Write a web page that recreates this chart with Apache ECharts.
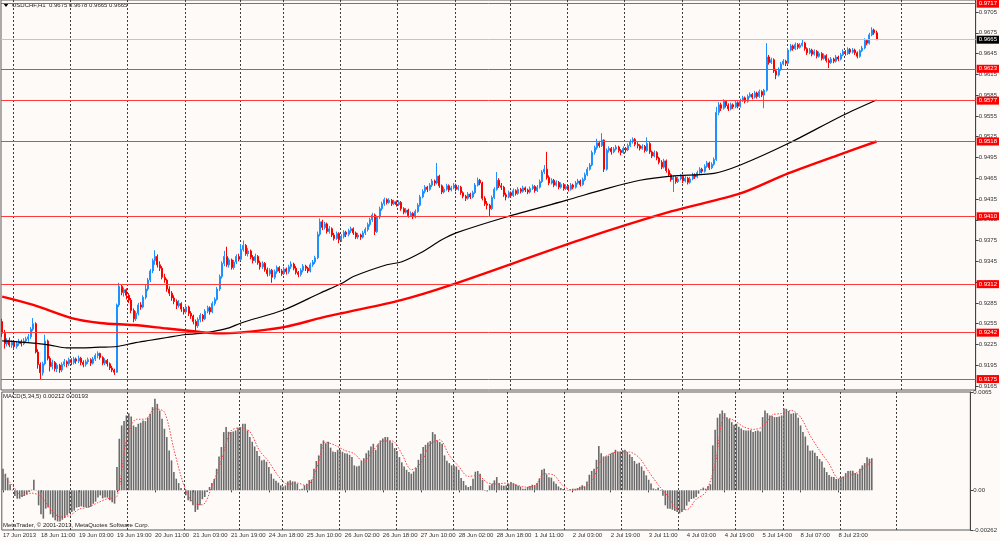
<!DOCTYPE html>
<html lang="en">
<head>
<meta charset="UTF-8">
<title>USDCHF,H1</title>
<script src="https://cdn.jsdelivr.net/npm/echarts@6/dist/echarts.min.js"></script>
<style>
    html, body { margin: 0; padding: 0; background: #fefaf8; }
    #chart { width: 1000px; height: 541px; }
</style>
</head>
<body>
<div id="chart"></div>
<script type="text/javascript">
// USDCHF H1, 17 Jun 19:00 .. 9 Jul 13:00 2013, quotes as 4-digit ints (9258 = 0.9258)
var opens = [
    9258,9241,9226,9231,9224,9228,9222,9226,9229,9226,9230,9233,9236,9247,9255,9214,
    9196,9184,9197,9230,9205,9193,9199,9190,9195,9188,9196,9200,9197,9203,9199,9204,
    9201,9205,9199,9196,9200,9203,9198,9204,9209,9212,9206,9198,9202,9197,9191,9188,
    9185,9282,9309,9300,9304,9296,9289,9274,9262,9270,9282,9279,9293,9305,9318,9331,
    9346,9352,9340,9335,9322,9318,9305,9299,9292,9287,9281,9284,9276,9272,9279,9270,
    9266,9258,9252,9261,9267,9262,9273,9278,9272,9284,9290,9305,9323,9342,9352,9340,
    9347,9336,9344,9352,9348,9362,9368,9356,9360,9351,9346,9352,9343,9337,9342,9333,
    9327,9332,9322,9330,9336,9331,9327,9334,9330,9337,9341,9335,9329,9326,9332,9338,
    9335,9331,9340,9344,9350,9384,9402,9394,9399,9388,9392,9383,9378,9385,9376,9381,
    9387,9384,9389,9392,9386,9380,9383,9380,9386,9391,9398,9405,9412,9388,9409,9421,
    9428,9434,9430,9433,9428,9431,9427,9430,9421,9416,9419,9411,9414,9409,9417,9426,
    9438,9446,9452,9449,9455,9461,9458,9468,9454,9445,9449,9454,9448,9451,9455,9449,
    9452,9444,9439,9436,9442,9438,9444,9455,9462,9458,9436,9428,9426,9421,9437,9449,
    9462,9454,9452,9441,9438,9444,9440,9447,9443,9449,9446,9451,9448,9445,9450,9453,
    9447,9452,9460,9474,9478,9466,9458,9462,9455,9459,9452,9456,9450,9453,9449,9455,
    9452,9458,9461,9456,9463,9470,9478,9484,9502,9509,9516,9512,9520,9478,9505,9508,
    9503,9507,9510,9505,9502,9508,9506,9512,9518,9521,9514,9512,9508,9511,9505,9515,
    9503,9497,9502,9494,9488,9481,9490,9476,9470,9463,9466,9460,9464,9468,9461,9465,
    9459,9464,9470,9467,9473,9478,9475,9482,9487,9480,9485,9492,9560,9571,9566,9576,
    9570,9565,9571,9568,9574,9569,9577,9581,9576,9583,9586,9582,9588,9583,9590,9585,
    9592,9640,9632,9636,9620,9614,9622,9630,9634,9631,9650,9656,9652,9658,9654,9657,
    9660,9652,9646,9650,9644,9648,9641,9645,9638,9642,9635,9632,9637,9634,9640,9637,
    9643,9648,9645,9651,9647,9650,9646,9641,9649,9653,9664,9660,9672,9679,9675
];
var highs = [
    9262,9246,9234,9235,9231,9230,9229,9233,9232,9234,9236,9240,9250,9263,9257,9218,
    9199,9200,9239,9232,9208,9203,9201,9198,9197,9199,9204,9202,9206,9205,9207,9206,
    9209,9207,9202,9203,9206,9205,9207,9212,9215,9213,9208,9205,9204,9199,9194,9190,
    9284,9314,9312,9307,9306,9299,9292,9277,9273,9285,9286,9296,9311,9321,9334,9349,
    9361,9355,9345,9338,9327,9320,9309,9302,9296,9290,9289,9286,9279,9283,9281,9273,
    9268,9261,9264,9270,9269,9276,9281,9280,9287,9293,9308,9326,9345,9360,9366,9350,
    9349,9347,9355,9356,9370,9375,9370,9364,9362,9354,9356,9354,9346,9345,9344,9336,
    9335,9334,9333,9339,9338,9334,9337,9336,9340,9345,9343,9338,9331,9335,9341,9340,
    9337,9343,9347,9353,9388,9407,9405,9402,9401,9396,9394,9386,9388,9387,9384,9390,
    9389,9392,9395,9394,9388,9386,9385,9389,9394,9401,9408,9415,9414,9411,9424,9431,
    9437,9436,9436,9435,9434,9433,9433,9432,9423,9422,9421,9417,9416,9420,9429,9441,
    9449,9455,9454,9458,9464,9463,9487,9470,9456,9452,9457,9456,9454,9458,9457,9455,
    9454,9446,9441,9445,9444,9447,9458,9466,9464,9460,9439,9432,9428,9440,9452,9474,
    9465,9458,9454,9444,9447,9446,9450,9449,9452,9451,9454,9453,9450,9453,9456,9455,
    9455,9463,9477,9484,9503,9469,9465,9464,9462,9461,9459,9458,9456,9455,9458,9457,
    9461,9464,9463,9466,9473,9481,9487,9505,9512,9522,9519,9530,9521,9508,9511,9510,
    9510,9513,9512,9507,9511,9510,9515,9521,9524,9523,9517,9514,9514,9513,9524,9517,
    9505,9505,9504,9496,9491,9493,9492,9479,9472,9469,9468,9467,9471,9470,9468,9467,
    9467,9473,9472,9476,9481,9480,9485,9490,9489,9488,9495,9568,9575,9574,9579,9578,
    9573,9574,9573,9577,9576,9580,9584,9583,9586,9589,9588,9591,9590,9593,9592,9594,
    9660,9643,9639,9638,9623,9625,9633,9637,9636,9653,9659,9658,9661,9660,9660,9665,
    9662,9654,9653,9652,9651,9650,9648,9647,9645,9644,9638,9640,9639,9643,9642,9646,
    9651,9650,9654,9653,9653,9652,9648,9651,9656,9667,9666,9675,9683,9681,9678
];
var lows = [
    9236,9219,9222,9221,9220,9218,9219,9223,9222,9224,9227,9229,9233,9244,9212,9190,
    9175,9180,9195,9202,9186,9189,9186,9185,9184,9185,9193,9192,9194,9195,9196,9197,
    9198,9195,9192,9193,9197,9194,9196,9201,9205,9203,9195,9195,9193,9188,9185,9181,
    9184,9279,9296,9294,9290,9285,9270,9257,9259,9267,9275,9277,9290,9302,9315,9328,
    9340,9336,9331,9319,9314,9301,9295,9288,9283,9276,9278,9272,9268,9269,9266,9262,
    9254,9243,9249,9257,9258,9260,9270,9268,9270,9281,9288,9302,9320,9338,9337,9336,
    9333,9333,9341,9345,9346,9359,9353,9352,9348,9342,9343,9340,9333,9334,9330,9323,
    9324,9314,9319,9327,9328,9324,9325,9326,9327,9334,9332,9326,9322,9323,9329,9331,
    9328,9329,9337,9341,9348,9381,9390,9391,9385,9385,9380,9375,9376,9371,9373,9378,
    9380,9381,9386,9383,9377,9377,9376,9378,9383,9388,9395,9402,9383,9386,9406,9418,
    9425,9427,9428,9425,9426,9424,9425,9418,9413,9414,9408,9409,9406,9407,9415,9424,
    9436,9443,9445,9447,9452,9454,9456,9451,9442,9443,9447,9445,9446,9449,9446,9447,
    9441,9436,9432,9434,9435,9436,9442,9453,9455,9433,9425,9420,9410,9419,9435,9447,
    9451,9448,9438,9433,9436,9437,9438,9440,9441,9443,9444,9445,9442,9443,9448,9444,
    9445,9450,9458,9471,9463,9455,9456,9452,9453,9449,9450,9447,9448,9446,9447,9449,
    9450,9456,9453,9454,9461,9468,9476,9482,9499,9506,9509,9510,9474,9476,9502,9499,
    9501,9505,9502,9498,9500,9502,9504,9510,9515,9511,9508,9505,9506,9502,9503,9500,
    9494,9495,9491,9485,9478,9479,9473,9467,9460,9445,9457,9458,9462,9458,9459,9456,
    9457,9462,9464,9465,9471,9472,9473,9480,9477,9478,9483,9490,9556,9562,9564,9567,
    9562,9563,9565,9566,9566,9567,9575,9573,9574,9581,9579,9580,9580,9581,9582,9566,
    9590,9629,9630,9617,9608,9612,9620,9628,9627,9629,9648,9649,9650,9651,9652,9655,
    9649,9643,9644,9641,9642,9638,9639,9635,9636,9632,9624,9630,9631,9632,9634,9635,
    9641,9642,9643,9644,9645,9643,9638,9639,9647,9651,9657,9658,9670,9672,9665
];
var closes = [
    9241,9226,9231,9224,9228,9222,9226,9229,9226,9230,9233,9236,9247,9255,9214,9196,
    9184,9197,9230,9205,9193,9199,9190,9195,9188,9196,9200,9197,9203,9199,9204,9201,
    9205,9199,9196,9200,9203,9198,9204,9209,9212,9206,9198,9202,9197,9191,9188,9185,
    9282,9309,9300,9304,9296,9289,9274,9262,9270,9282,9279,9293,9305,9318,9331,9346,
    9352,9340,9335,9322,9318,9305,9299,9292,9287,9281,9284,9276,9272,9279,9270,9266,
    9258,9252,9261,9267,9262,9273,9278,9272,9284,9290,9305,9323,9342,9352,9340,9347,
    9336,9344,9352,9348,9362,9368,9356,9360,9351,9346,9352,9343,9337,9342,9333,9327,
    9332,9322,9330,9336,9331,9327,9334,9330,9337,9341,9335,9329,9326,9332,9338,9335,
    9331,9340,9344,9350,9384,9402,9394,9399,9388,9392,9383,9378,9385,9376,9381,9387,
    9384,9389,9392,9386,9380,9383,9380,9386,9391,9398,9405,9412,9388,9409,9421,9428,
    9434,9430,9433,9428,9431,9427,9430,9421,9416,9419,9411,9414,9409,9417,9426,9438,
    9446,9452,9449,9455,9461,9458,9468,9454,9445,9449,9454,9448,9451,9455,9449,9452,
    9444,9439,9436,9442,9438,9444,9455,9462,9458,9436,9428,9426,9421,9437,9449,9462,
    9454,9452,9441,9438,9444,9440,9447,9443,9449,9446,9451,9448,9445,9450,9453,9447,
    9452,9460,9474,9478,9466,9458,9462,9455,9459,9452,9456,9450,9453,9449,9455,9452,
    9458,9461,9456,9463,9470,9478,9484,9502,9509,9516,9512,9520,9478,9505,9508,9503,
    9507,9510,9505,9502,9508,9506,9512,9518,9521,9514,9512,9508,9511,9505,9515,9503,
    9497,9502,9494,9488,9481,9490,9476,9470,9463,9466,9460,9464,9468,9461,9465,9459,
    9464,9470,9467,9473,9478,9475,9482,9487,9480,9485,9492,9560,9571,9566,9576,9570,
    9565,9571,9568,9574,9569,9577,9581,9576,9583,9586,9582,9588,9583,9590,9585,9592,
    9640,9632,9636,9620,9614,9622,9630,9634,9631,9650,9656,9652,9658,9654,9657,9660,
    9652,9646,9650,9644,9648,9641,9645,9638,9642,9635,9632,9637,9634,9640,9637,9643,
    9648,9645,9651,9647,9650,9646,9641,9649,9653,9664,9660,9672,9679,9675,9665
];

var maFastIdx = [0,13,20,27,34,41,48,55,62,69,76,83,90,95,100,118,133,142,147,161,167,175,184,190,211,236,253,267,280,298,309,329,352,366];
var maFastVals = [9230,9227,9224,9220,9220,9221,9222,9227,9231,9235,9239,9241,9245,9249,9256,9275,9299,9313,9323,9340,9344,9357,9376,9386,9409,9433,9450,9462,9468,9472,9484,9515,9556,9578];
var maSlowIdx = [0,13,29,41,55,69,83,90,99,118,133,142,167,188,242,280,309,329,352,366];
var maSlowVals = [9294,9282,9263,9256,9253,9248,9243,9241,9242,9250,9263,9270,9289,9311,9376,9417,9443,9472,9501,9518];

// MACD(5,34,5) main line per bar, in 0.00001
var macdPts = [
    143,110,84,40,4,-37,-55,-55,-44,-37,-26,-11,4,70,-2,-99,
    -158,-187,-121,-114,-158,-180,-198,-205,-205,-194,-183,-165,-152,-143,-134,-114,
    -110,-106,-110,-112,-114,-108,-88,-75,-48,-33,-53,-48,-48,-66,-79,-88,
    154,341,429,458,495,510,488,429,418,440,447,462,458,480,506,550,
    605,572,528,473,407,352,264,198,121,77,48,15,2,-33,-66,-73,
    -99,-143,-128,-99,-59,-44,-11,22,48,75,143,224,286,385,418,387,
    385,389,396,414,418,440,440,396,352,321,290,260,227,198,202,189,
    154,110,77,64,51,33,26,33,59,66,59,59,44,7,11,33,
    44,68,70,143,194,231,308,330,312,321,282,257,253,268,268,255,
    246,244,235,220,165,158,163,196,213,246,264,290,308,268,304,330,
    343,352,352,330,315,279,260,220,185,158,136,121,110,125,150,202,
    242,286,301,317,326,385,370,330,319,308,231,196,180,165,165,158,
    136,81,62,33,22,29,77,123,128,110,70,-2,-7,33,44,66,
    88,48,33,31,33,44,55,48,40,31,24,11,11,22,29,37,
    35,48,79,136,143,106,86,84,59,44,26,15,9,-2,-2,7,
    11,11,15,24,33,26,59,103,128,143,202,293,246,224,224,229,
    242,251,268,255,255,266,268,253,238,220,194,176,183,158,130,99,
    70,46,13,7,18,-4,-35,-99,-121,-121,-128,-136,-143,-152,-143,-128,
    -101,-75,-57,-53,-44,-22,7,18,11,29,40,297,400,480,506,528,
    510,480,471,451,433,440,420,409,398,396,396,398,385,392,396,389,
    484,528,510,495,491,484,484,488,495,541,539,524,506,510,510,480,
    429,385,356,297,262,264,249,227,207,191,150,121,101,90,88,75,
    75,84,92,114,128,130,130,114,110,143,165,180,218,209,212
];
// signal line, read every 4 bars, in 0.00001
var signalIdx = [0,4,8,12,16,20,24,28,32,36,40,44,48,52,56,60,64,68,72,76,80,84,88,92,96,100,104,108,112,116,120,124,128,132,136,140,144,148,152,156,160,164,168,172,176,180,184,188,192,196,200,204,208,212,216,220,224,228,232,236,240,244,248,252,256,260,264,268,272,276,280,284,288,292,296,300,304,308,312,316,320,324,328,332,336,340,344,348,352,356,360,364,366];
var signalVals = [103,33,-35,-18,-40,-121,-176,-167,-125,-110,-81,-55,-40,330,469,471,539,517,271,44,-80,-95,26,198,392,414,387,264,189,95,40,48,29,139,319,297,264,242,187,264,326,326,242,136,180,304,334,231,158,92,99,51,42,48,35,22,29,110,101,29,0,18,59,198,242,255,253,216,125,37,-37,-123,-128,-59,-13,170,484,462,420,403,420,497,508,528,484,363,264,176,79,95,119,165,193];

var timeLabels = ['17 Jun 2013','18 Jun 11:00','19 Jun 03:00','19 Jun 19:00','20 Jun 11:00','21 Jun 03:00','21 Jun 19:00','24 Jun 18:00','25 Jun 10:00','26 Jun 02:00','26 Jun 18:00','27 Jun 10:00','28 Jun 02:00','28 Jun 18:00','1 Jul 11:00','2 Jul 03:00','2 Jul 19:00','3 Jul 11:00','4 Jul 03:00','4 Jul 19:00','5 Jul 14:00','8 Jul 07:00','8 Jul 23:00'];
var labelStep = 16;
var daySeps = [5,29,53,77,100,118,142,166,190,213,237,261,285,309,329,353,377];
var priceTicks = [0.9165,0.9195,0.9225,0.9255,0.9285,0.9315,0.9345,0.9375,0.9405,0.9435,0.9465,0.9495,0.9525,0.9555,0.9585,0.9615,0.9645,0.9675,0.9705];
var levels = [0.9717,0.9623,0.9577,0.9518,0.9410,0.9312,0.9242,0.9175];
var bidLevel = 0.9665;
var macdTicks = [-0.00262, 0, 0.0065];
var macdTickLabels = ['-0.00262', '0.00', '0.0065'];

var totalBars = 408; // includes empty shift on the right
var cats = [];
for (var i = 0; i < totalBars; i++) cats.push(i);

function q(v) { return v / 10000; }
var candleData = opens.map(function (o, i) { return [q(o), q(closes[i]), q(lows[i]), q(highs[i])]; });
var fastData = maFastIdx.map(function (x, i) { return [x, q(maFastVals[i])]; });
var slowData = maSlowIdx.map(function (x, i) { return [x, q(maSlowVals[i])]; });
var macdData = macdPts.map(function (v) { return v / 100000; });
var signalData = signalIdx.map(function (x, i) { return [x, signalVals[i] / 100000]; });

var last = candleData.length - 1;
var titleText = 'USDCHF,H1  ' + [opens[last], highs[last], lows[last], closes[last]].map(function (v) { return q(v).toFixed(4); }).join(' ');
var macdText = 'MACD(5,34,5) ' + macdData[macdData.length - 1].toFixed(5) + ' ' + (signalVals[signalVals.length - 1] / 100000).toFixed(5);

var font = 'Liberation Sans';
var showLabel = function (index) { return index % labelStep === 0 && index / labelStep < timeLabels.length; };
// day separators drawn as the category axis split lines
var isDaySep = function (index) { return daySeps.indexOf(index) >= 0; };
var daySplit = { show: true, interval: isDaySep, lineStyle: { color: '#3c3c3c', width: 1, type: [2, 2] } };

var levelLines = levels.map(function (v) { return { yAxis: v }; });
levelLines.push({
    yAxis: bidLevel,
    lineStyle: { color: '#c4c4c4', width: 1, type: 'solid' },
    label: { backgroundColor: '#000000' }
});

var chart = echarts.init(document.getElementById('chart'));
var option = {
    animation: false,
    backgroundColor: '#fefaf8',
    textStyle: { fontFamily: font },
    grid: [
        { left: 1, top: 0, width: 975, height: 390, show: true, borderColor: '#5a5a5a', borderWidth: 1 },
        { left: 1, top: 392, width: 975, height: 138, show: true, borderColor: '#5a5a5a', borderWidth: 1 }
    ],
    xAxis: [
        {
            type: 'category', gridIndex: 0, data: cats, boundaryGap: true,
            axisLine: { show: false }, axisTick: { show: false }, axisLabel: { show: false },
            splitLine: daySplit
        },
        {
            type: 'category', gridIndex: 1, data: cats, boundaryGap: true,
            axisLine: { show: false },
            axisTick: { show: true, interval: showLabel, alignWithLabel: true, length: 2, lineStyle: { color: '#444' } },
            axisLabel: {
                interval: showLabel, align: 'left', margin: 2,
                fontSize: 6, color: '#333', fontFamily: font,
                formatter: function (value, index) { return timeLabels[index / labelStep] || ''; }
            },
            splitLine: daySplit
        }
    ],
    yAxis: [
        {
            type: 'value', gridIndex: 0, position: 'right', min: 0.91592, max: 0.97223,
            axisLine: { show: true, lineStyle: { color: '#444' } },
            axisTick: { show: true, length: 3, customValues: priceTicks, lineStyle: { color: '#444' } },
            axisLabel: {
                customValues: priceTicks, margin: 3, fontSize: 6, color: '#333', fontFamily: font,
                formatter: function (v) { return v.toFixed(4); }
            },
            splitLine: { show: false }
        },
        {
            type: 'value', gridIndex: 1, position: 'right', min: macdTicks[0], max: macdTicks[2],
            axisLine: { show: true, lineStyle: { color: '#444' } },
            axisTick: { show: true, length: 3, customValues: macdTicks, lineStyle: { color: '#444' } },
            axisLabel: {
                customValues: macdTicks, margin: 3, fontSize: 6, color: '#333', fontFamily: font,
                formatter: function (v) {
                    var k = macdTicks.indexOf(v);
                    return k >= 0 ? macdTickLabels[k] : '';
                }
            },
            splitLine: { show: false }
        }
    ],
    series: [
        {
            name: 'USDCHF', type: 'candlestick', xAxisIndex: 0, yAxisIndex: 0, z: 2,
            data: candleData,
            barWidth: 1.5,
            itemStyle: {
                color: '#1e90ff', color0: '#ff0000',
                borderColor: '#1e90ff', borderColor0: '#ff0000', borderWidth: 1
            },
            markLine: {
                silent: true,
                precision: 4,
                symbol: ['none', 'none'],
                animation: false,
                lineStyle: { color: '#ff3a3a', width: 1, type: 'solid' },
                label: {
                    position: 'end', distance: 1,
                    formatter: function (p) { return Number(p.value).toFixed(4); },
                    color: '#ffffff', backgroundColor: '#ff0000',
                    fontSize: 6, fontFamily: font, padding: [1, 2, 1, 2]
                },
                data: levelLines
            }
        },
        {
            name: 'MA fast', type: 'line', xAxisIndex: 0, yAxisIndex: 0, z: 3,
            data: fastData, smooth: 0.3, showSymbol: false,
            lineStyle: { color: '#000000', width: 1.2 }
        },
        {
            name: 'MA slow', type: 'line', xAxisIndex: 0, yAxisIndex: 0, z: 3,
            data: slowData, smooth: 0.3, showSymbol: false,
            lineStyle: { color: '#ff0000', width: 2.4 }
        },
        {
            name: 'MACD', type: 'bar', xAxisIndex: 1, yAxisIndex: 1, z: 2,
            data: macdData, barWidth: 1.6,
            itemStyle: { color: '#6a6a6a' }
        },
        {
            name: 'Signal', type: 'line', xAxisIndex: 1, yAxisIndex: 1, z: 3,
            data: signalData, smooth: 0.3, showSymbol: false,
            lineStyle: { color: '#ff4040', width: 1, type: [1.5, 1.5] }
        }
    ],
    graphic: [
        { type: 'polygon', shape: { points: [[3, 3], [9, 3], [6, 7]] }, style: { fill: '#000' }, silent: true },
        { type: 'text', left: 12, top: 2, silent: true, style: { text: titleText, fontSize: 6, fontFamily: font, fill: '#222' } },
        { type: 'text', left: 3, top: 393, silent: true, style: { text: macdText, fontSize: 6, fontFamily: font, fill: '#222' } },
        { type: 'text', left: 3, top: 522, silent: true, style: { text: 'MetaTrader, \u00a9 2001-2013, MetaQuotes Software Corp.', fontSize: 6, fontFamily: font, fill: '#222' } }
    ]
};
chart.setOption(option);
window.addEventListener('resize', function () {
    chart.resize();
});
</script>
</body>
</html>
